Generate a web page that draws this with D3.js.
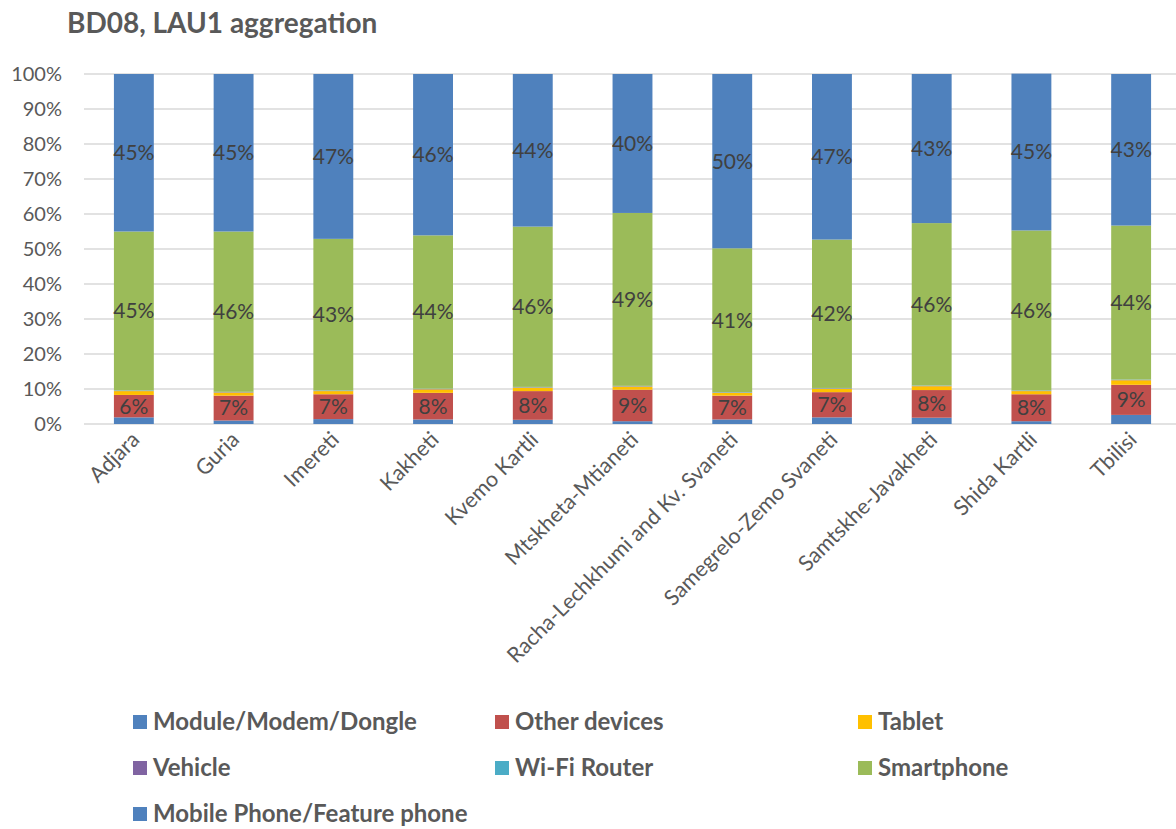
<!DOCTYPE html>
<html><head><meta charset="utf-8">
<script src="https://cdn.jsdelivr.net/npm/d3@7"></script>
<style>body{margin:0;background:#fff}svg{display:block}text{font-family:Lato,"Open Sans",sans-serif}</style>
</head><body><svg id="c" width="1176" height="829"></svg>
<script>
const categories = ["Adjara","Guria","Imereti","Kakheti","Kvemo Kartli","Mtskheta-Mtianeti","Racha-Lechkhumi and Kv. Svaneti","Samegrelo-Zemo Svaneti","Samtskhe-Javakheti","Shida Kartli","Tbilisi"];
const seriesNames = ["Module/Modem/Dongle","Other devices","Tablet","Vehicle","Wi-Fi Router","Smartphone","Mobile Phone/Feature phone"];
const moduleModem = [1.9,1.0,1.4,1.3,1.2,0.8,1.3,1.9,1.8,0.8,2.6];
const otherDevices = [6.4,7.1,7.1,7.6,8.2,9.0,6.8,7.2,7.9,7.7,8.6];
const tablet = [1.1,0.9,0.9,1.0,1.0,0.9,0.8,1.0,1.1,0.9,1.3];
const vehicle = [0.1,0.1,0.1,0.1,0.1,0.1,0.1,0.1,0.1,0.1,0.1];
const wifiRouter = [0.1,0.1,0.1,0.1,0.1,0.1,0.1,0.1,0.1,0.1,0.1];
const smartphone = [45.4,45.8,43.3,43.8,45.8,49.4,41.1,42.4,46.4,45.7,44.0];
const mobilePhone = [45.0,45.0,47.1,46.1,43.6,39.7,49.8,47.3,42.6,44.8,43.3];
const yTicks = [0,10,20,30,40,50,60,70,80,90,100];
const colors = ["#4F81BD","#C0504D","#FFC000","#8064A2","#4BACC6","#9BBB59","#4F81BD"];
const labelled = [false,true,false,false,false,true,true];

const seriesVals = [moduleModem,otherDevices,tablet,vehicle,wifiRouter,smartphone,mobilePhone];
const rows = categories.map((c,i)=>{const r={cat:c};seriesNames.forEach((s,k)=>r[s]=seriesVals[k][i]);return r;});
const stack = d3.stack().keys(seriesNames)(rows);

const svg = d3.select("#c");
const x = d3.scaleBand().domain(categories).range([84,1181]).paddingInner(0.6).paddingOuter(0.3);
const y = d3.scaleLinear().domain([0,100]).range([424,74]);

svg.append("text").attr("x",67).attr("y",33).attr("font-size",28).attr("font-weight","bold").attr("fill","#595959").text("BD08, LAU1 aggregation");

// grid
svg.append("g").selectAll("line").data(yTicks).join("line")
  .attr("x1",84).attr("x2",1176).attr("y1",d=>y(d)).attr("y2",d=>y(d))
  .attr("stroke","#D9D9D9").attr("stroke-width",1.3);
svg.append("g").selectAll("text").data(yTicks).join("text")
  .attr("x",62).attr("y",d=>y(d)).attr("dy","0.35em").attr("text-anchor","end")
  .attr("font-size",20).attr("fill","#595959").text(d=>d+"%");

// bars
stack.forEach((layer,k)=>{
  const g = svg.append("g");
  g.selectAll("rect").data(layer).join("rect")
    .attr("x",d=>x(d.data.cat)).attr("width",x.bandwidth())
    .attr("y",d=>y(d[1])).attr("height",d=>Math.max(0,y(d[0])-y(d[1])))
    .attr("fill",colors[k]);
});
stack.forEach((layer,k)=>{
  if(!labelled[k]) return;
  svg.append("g").selectAll("text").data(layer).join("text")
    .attr("x",d=>x(d.data.cat)+x.bandwidth()/2).attr("y",d=>y((d[0]+d[1])/2)).attr("dy","0.35em")
    .attr("text-anchor","middle").attr("font-size",21).attr("fill","#404040")
    .text(d=>Math.round(d[1]-d[0])+"%");
});

// x labels
svg.append("g").selectAll("text").data(categories).join("text")
  .attr("transform",d=>`translate(${x(d)+x.bandwidth()/2+7},${441}) rotate(-45)`)
  .attr("text-anchor","end").attr("font-size",21.5).attr("fill","#595959").text(d=>d);

// legend
const legPos = [[133,722],[495,722],[858,722],[133,768],[495,768],[858,768],[133,814]];
const lg = svg.append("g");
seriesNames.forEach((s,k)=>{
  lg.append("rect").attr("x",legPos[k][0]).attr("y",legPos[k][1]-7).attr("width",14).attr("height",14).attr("fill",colors[k]);
  lg.append("text").attr("x",legPos[k][0]+20).attr("y",legPos[k][1]).attr("dy","0.35em")
    .attr("font-size",24).attr("font-weight","bold").attr("fill","#595959").text(s);
});
</script></body></html>
